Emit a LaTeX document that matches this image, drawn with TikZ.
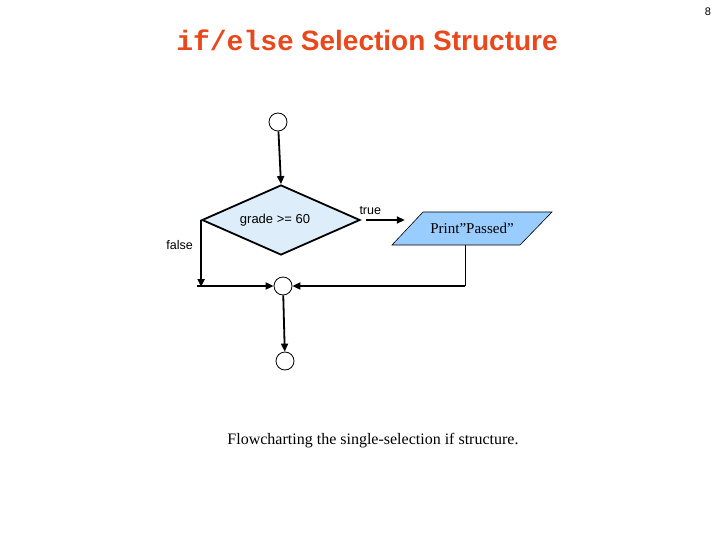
\documentclass[tikz,border=0pt]{standalone}
\usepackage{fontspec}
\setmainfont{Liberation Serif}
\setsansfont{Liberation Sans}
\setmonofont{Liberation Mono}
\definecolor{TitleRed}{RGB}{232,72,28}
\definecolor{DiamondBlue}{RGB}{221,238,250}
\definecolor{BoxBlue}{RGB}{153,204,255}
\usetikzlibrary{arrows.meta,positioning,calc,shapes.geometric}

\begin{document}
\begin{tikzpicture}[x=1pt, y=-1pt,
        conn/.style={circle, draw=black, line width=0.8pt, fill=white,
                     minimum size=18pt, inner sep=0pt},
        decision/.style={diamond, aspect=2.26, draw=black, line width=1.8pt, fill=DiamondBlue,
                         minimum width=158pt, minimum height=70pt, inner sep=0pt,
                         font=\sffamily\fontsize{13}{15}\selectfont},
        iobox/.style={draw=black, line width=0.6pt, fill=BoxBlue},
        arr/.style={-{Triangle[length=8pt,width=7pt]}, line width=1.8pt, black},
        lbl/.style={font=\sffamily\fontsize{12.5}{14}\selectfont}
      ]
        \useasboundingbox (0,0) rectangle (720,540);
        \node[font=\sffamily\fontsize{11}{13}\selectfont] (pagenum) at (708,12) {8};
        \node[text=TitleRed] (title) at (367,40)
          {\fontsize{28}{32}\selectfont\texttt{\bfseries if/else} \sffamily\bfseries Selection Structure};
        % flowchart
        \node[conn] (start) at (278,122) {};
        \node[decision] (test) at (281,220) {\hspace*{-12pt}grade >= 60};
        % parallelogram drawn round its text node
        \coordinate (pc) at (472,228.5);
        \filldraw[iobox] ($(pc)+(-80,16.5)$) -- ($(pc)+(-49,-16.5)$)
          -- ($(pc)+(80,-16.5)$) -- ($(pc)+(48,16.5)$) -- cycle;
        \node[minimum width=128pt, minimum height=33pt, inner sep=0pt,
              font=\fontsize{15}{17}\selectfont] (print) at (pc) {Print"Passed"};
        \node[conn] (merge) at (283,286) {};
        \node[conn] (finish) at (285,361) {};
        \coordinate (fj) at (test.west |- merge);
        \coordinate (pj) at ([xshift=-7pt]print.south |- merge);
        \draw[arr] (start) -- (test.north);
        \draw[arr, shorten <=5pt, shorten >=3pt] (test.east) -- (print.west |- test.east)
          node[lbl, pos=0.2, above=1pt] (truelbl) {true};
        \draw[line width=0.8pt] ([xshift=-7pt]print.south) -- (pj);
        \draw[arr] (pj) -- (merge);
        \draw[arr, shorten >=-1pt] (test.west) -- (fj)
          node[lbl, pos=0.38, left=4pt] (falselbl) {false};
        \draw[arr] ([xshift=-4pt]fj) -- (merge);
        \draw[arr] (merge) -- (finish);
        \node[font=\fontsize{16}{18}\selectfont] (caption) at (373,441)
          {Flowcharting the single-selection if structure.};
      \end{tikzpicture}
\end{document}
